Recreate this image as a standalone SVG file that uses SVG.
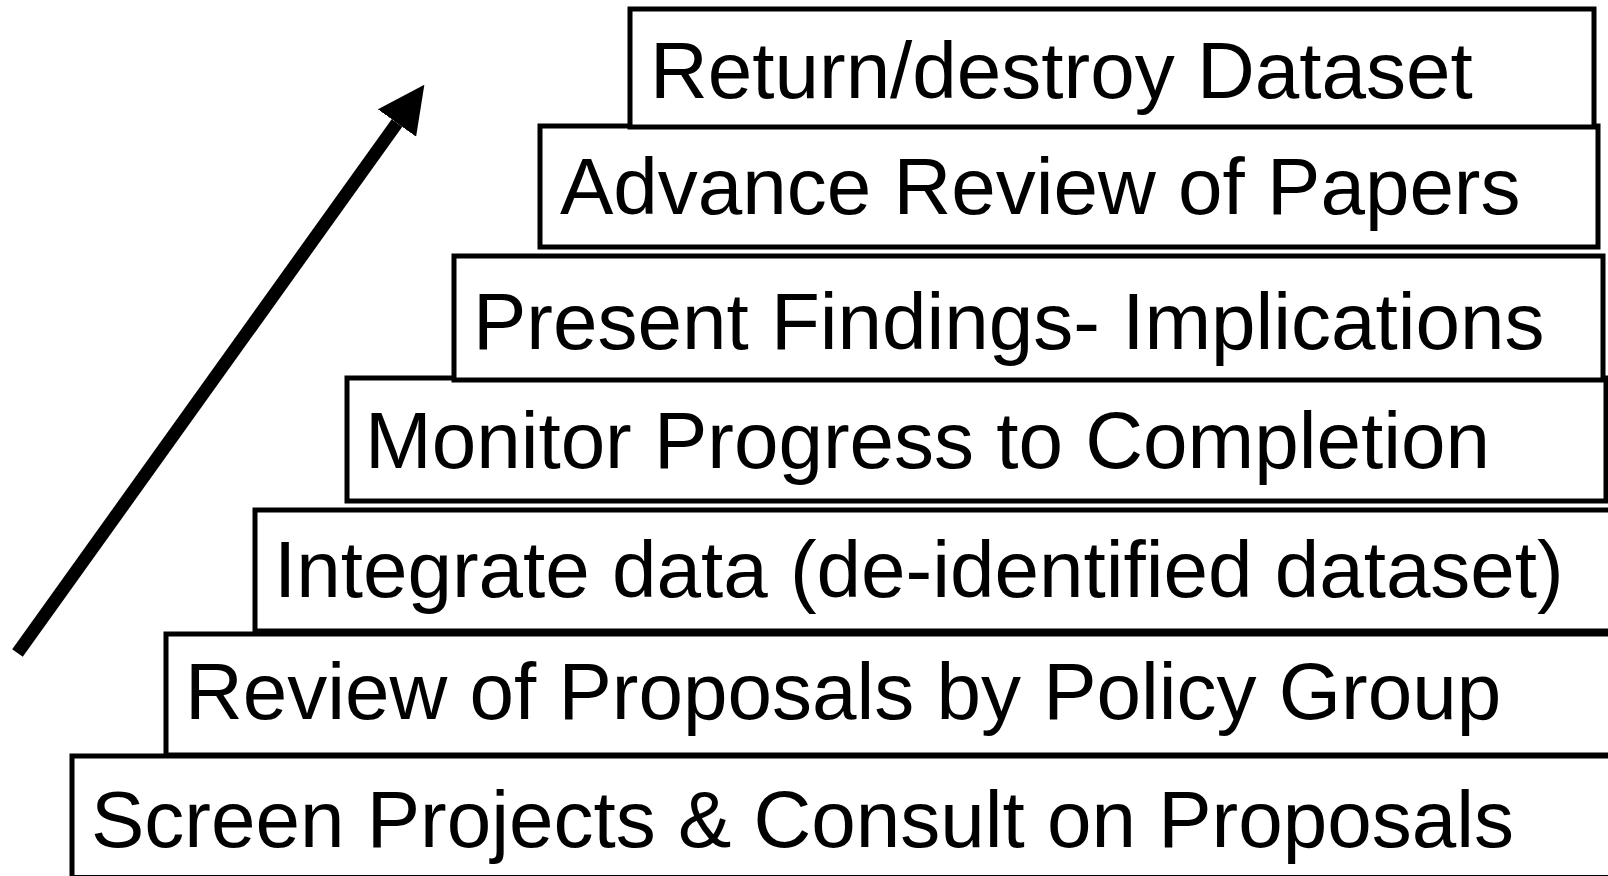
<svg xmlns="http://www.w3.org/2000/svg" width="1608" height="876" viewBox="0 0 1608 876">
<style>
.box{fill:#fff;stroke:#000;stroke-width:5}
.lbl{font-family:"Liberation Sans",Arial,sans-serif;font-size:80px;fill:#000}
.conn{stroke:#000;stroke-width:13;fill:none}
</style>
<defs>
<marker id="ah" markerUnits="userSpaceOnUse" markerWidth="47" markerHeight="47" refX="0" refY="23.5" orient="auto" viewBox="0 0 47 47">
<polygon points="0,0 47,23.5 0,47" fill="#000"/>
</marker>
</defs>
<rect width="1608" height="876" fill="#fff"/>
<g id="n6"><rect class="box" x="72" y="756" width="1560" height="121.5"/><text class="lbl" x="91" y="847">Screen Projects &amp; Consult on Proposals</text></g>
<g id="n5"><rect class="box" x="166" y="634" width="1470" height="121"/><text class="lbl" x="185" y="719">Review of Proposals by Policy Group</text></g>
<g id="n4"><rect class="box" x="255" y="510" width="1380" height="121"/><text class="lbl" x="274" y="597">Integrate data (de-identified dataset)</text></g>
<g id="n3"><rect class="box" x="347" y="378" width="1259" height="123"/><text class="lbl" x="365" y="468">Monitor Progress to Completion</text></g>
<g id="n2"><rect class="box" x="454" y="256" width="1149" height="124"/><text class="lbl" x="473" y="349">Present Findings- Implications</text></g>
<g id="n1"><rect class="box" x="540" y="126" width="1058" height="121"/><text class="lbl" x="560" y="214">Advance Review of Papers</text></g>
<g id="n0"><rect class="box" x="630" y="9" width="964" height="118"/><text class="lbl" x="650" y="98">Return/destroy Dataset</text></g>
<g id="connectors"><line class="conn" x1="17.5" y1="653" x2="397" y2="123" marker-end="url(#ah)"/></g>
</svg>
